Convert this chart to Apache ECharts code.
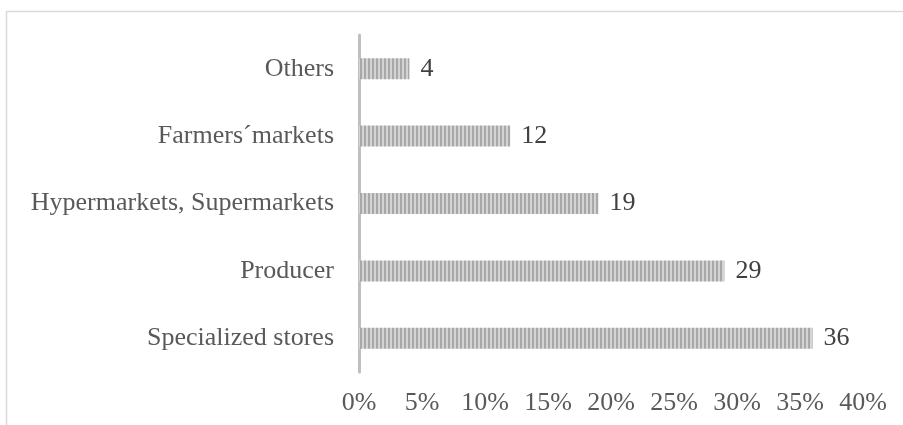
<!DOCTYPE html>
<html>
<head>
<meta charset="utf-8">
<style>html,body{margin:0;padding:0;background:#fff;}#c{width:903px;height:425px;}</style>
<script src="https://cdn.jsdelivr.net/npm/echarts@6/dist/echarts.min.js"></script>
</head>
<body>
<div id="c"></div>
<script>
const categories = ["Specialized stores", "Producer", "Hypermarkets, Supermarkets", "Farmers´markets", "Others"];
const values = [36, 29, 19, 12, 4];
const xTicks = [0, 5, 10, 15, 20, 25, 30, 35, 40];

function stripePattern() {
  const cv = document.createElement('canvas');
  cv.width = 4; cv.height = 4;
  const ctx = cv.getContext('2d');
  ctx.fillStyle = '#d4d4d4';
  ctx.fillRect(0, 0, 4, 4);
  ctx.fillStyle = '#a8a8a8';
  ctx.fillRect(0, 0, 2, 4);
  return cv;
}

const chart = echarts.init(document.getElementById('c'));
chart.setOption({
  animation: false,
  backgroundColor: '#fff',
  graphic: [{
    type: 'rect', left: 4, top: 9, z: -1,
    shape: { width: 1000, height: 500 },
    style: { fill: 'none', stroke: '#d9d9d9', lineWidth: 1.5 }
  }],
  grid: { left: 359, right: 40, top: 35, bottom: 53, containLabel: false },
  xAxis: {
    type: 'value', min: xTicks[0], max: xTicks[xTicks.length - 1], interval: 5,
    axisLine: { show: false }, axisTick: { show: false }, splitLine: { show: false },
    axisLabel: {
      formatter: v => v + '%', color: '#595959', fontFamily: 'Liberation Serif', fontSize: 26, margin: 18
    }
  },
  yAxis: {
    type: 'category', data: categories,
    axisLine: { show: true, lineStyle: { color: '#bfbfbf', width: 3 } },
    axisTick: { show: false },
    axisLabel: { color: '#595959', fontFamily: 'Liberation Serif', fontSize: 26, margin: 25 }
  },
  series: [{
    type: 'bar', data: values, barWidth: 21,
    itemStyle: { color: { image: stripePattern(), repeat: 'repeat' } },
    label: {
      show: true, position: 'right', distance: 11,
      color: '#404040', fontFamily: 'Liberation Serif', fontSize: 26
    }
  }]
});
</script>
</body>
</html>
